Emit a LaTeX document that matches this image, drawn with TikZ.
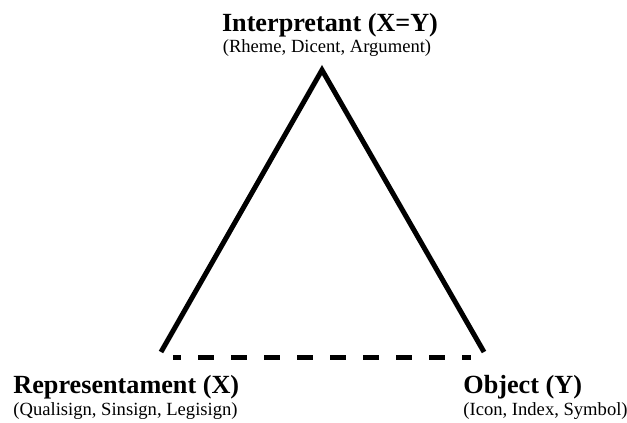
\documentclass[tikz,border=0pt]{standalone}
\usepackage{fontspec}
\setmainfont{Liberation Serif}
\usetikzlibrary{positioning}

\begin{document}
\begin{tikzpicture}[
    x=0.5pt, y=-0.5pt,
    title/.style={anchor=base, inner sep=0pt, font=\fontsize{13.1}{15}\selectfont\bfseries},
    sub/.style={anchor=base, inner sep=0pt, font=\fontsize{9.3}{11}\selectfont},
    leg/.style={line width=2.5pt},
    base/.style={line width=2.5pt, dash pattern=on 8pt off 8.5pt, dash phase=4pt}
]
\useasboundingbox (0,0) rectangle (627,423);

% Vertices
\coordinate (apex) at (322, 70);
\coordinate (left) at (161, 352);
\coordinate (right) at (484, 352);
\coordinate (dl) at (173, 357);
\coordinate (dr) at (471, 357);

% Labels
\node[title] (interp) at (330, 32) {Interpretant (X=Y)};
\node[sub] (interpsub) at (327, 52) {(Rheme, Dicent, Argument)};
\node[title, anchor=base west] (repr) at (13, 393) {Representament (X)};
\node[sub, anchor=base west] (reprsub) at (13, 415) {(Qualisign, Sinsign, Legisign)};
\node[title, anchor=base west] (obj) at (463, 393) {Object (Y)};
\node[sub, anchor=base west] (objsub) at (463, 415) {(Icon, Index, Symbol)};

% Sides
\draw[leg] (left) -- (apex) -- (right);
\draw[base] (dl) -- (dr);

\end{tikzpicture}
\end{document}
